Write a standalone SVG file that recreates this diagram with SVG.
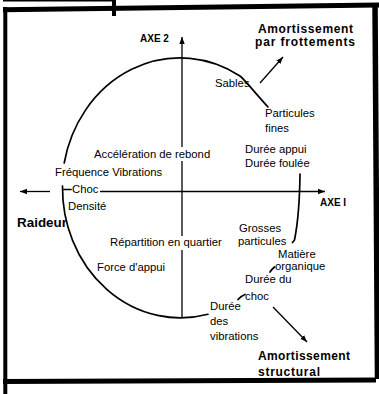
<svg xmlns="http://www.w3.org/2000/svg" width="379" height="394" viewBox="0 0 379 394">
<defs>
<marker id="ah" markerUnits="userSpaceOnUse" markerWidth="8" markerHeight="8" refX="7" refY="4" orient="auto">
<path d="M0,1.3 L7,4 L0,6.7 Z" fill="#000"/>
</marker>
<style>
.t{font-family:"Liberation Sans",Arial,sans-serif;font-size:11.3px;fill:#000}
.b{font-family:"Liberation Sans",Arial,sans-serif;font-size:12px;font-weight:bold;fill:#000}
.r{font-family:"Liberation Sans",Arial,sans-serif;font-size:13.4px;font-weight:bold;fill:#000}
.ax{font-family:"Liberation Sans",Arial,sans-serif;font-size:10px;font-weight:bold;fill:#000}
.c{fill:none;stroke:#000;stroke-width:1.7;stroke-linecap:round}
.a{fill:none;stroke:#000;stroke-width:1.3}
.fr{fill:none;stroke:#000;stroke-linecap:butt}
</style>
</defs>
<rect width="379" height="394" fill="#fff"/>
<g id="connectors">
<path class="c" d="M64.2,163 A118,130 0 0 1 240,76 C245,80 256,94 268,107"/>
<path class="c" d="M300,174 Q299.5,215 294.5,240 L292.5,242.5"/>
<path class="c" d="M270,272 Q272,269 274.5,267"/>
<path class="c" d="M238,299.5 Q241,296 245,294.5"/>
<path class="c" d="M208,314.3 A118,130 0 0 1 62.5,186"/>
<path class="c" d="M64,189.5 L71,189.5"/>
<path class="a" d="M182,147 L182,37" marker-end="url(#ah)"/>
<path class="a" d="M182,161 L182,236"/>
<path class="a" d="M182,250 L182,318"/>
<path class="a" d="M100,191.5 L325,191.5" marker-end="url(#ah)"/>
<path class="a" d="M50,191.5 L20,191.5" marker-end="url(#ah)"/>
<path class="a" d="M260,83 L283,57" marker-end="url(#ah)"/>
<path class="a" d="M273,307 L307,342" marker-end="url(#ah)"/>
</g>
<g id="axe2"><text class="ax" x="140" y="42">AXE 2</text></g>
<g id="axe1"><text class="ax" x="320" y="205.5">AXE I</text></g>
<g id="amort-frott"><text class="b" x="258" y="32.5" textLength="95">Amortissement</text><text class="b" x="255" y="46" textLength="100">par frottements</text></g>
<g id="amort-struct"><text class="b" x="258" y="360" textLength="92">Amortissement</text><text class="b" x="258" y="376" textLength="62">structural</text></g>
<g id="raideur"><text class="r" x="17" y="226.5" textLength="50">Raideur</text></g>
<g id="sables"><text class="t" x="215" y="87">Sables</text></g>
<g id="particules-fines"><text class="t" x="265" y="116.5">Particules</text><text class="t" x="265" y="132">fines</text></g>
<g id="duree-appui"><text class="t" x="245" y="153">Durée appui</text><text class="t" x="245" y="166.5">Durée foulée</text></g>
<g id="acceleration"><text class="t" x="94" y="158.3">Accélération de rebond</text></g>
<g id="frequence"><text class="t" x="55" y="176">Fréquence Vibrations</text></g>
<g id="choc"><text class="t" x="72" y="193">Choc</text></g>
<g id="densite"><text class="t" x="68" y="209.5">Densité</text></g>
<g id="repartition"><text class="t" x="110" y="246">Répartition en quartier</text></g>
<g id="force"><text class="t" x="97" y="271">Force d'appui</text></g>
<g id="grosses"><text class="t" x="239" y="232">Grosses</text><text class="t" x="238" y="245">particules</text></g>
<g id="matiere"><text class="t" x="278" y="258">Matière</text><text class="t" x="275" y="269.5">organique</text></g>
<g id="duree-choc"><text class="t" x="245" y="283">Durée du</text><text class="t" x="245" y="300">choc</text></g>
<g id="duree-vib"><text class="t" x="210" y="310">Durée</text><text class="t" x="210" y="325">des</text><text class="t" x="210" y="340">vibrations</text></g>
<g id="frame">
<path class="fr" stroke-width="1.5" d="M3,0.8 L115,0.8"/>
<path class="fr" stroke-width="4" d="M114,0 L114,16"/>
<path class="fr" stroke-width="5" d="M3,9.8 L379,5"/>
<path class="fr" stroke-width="4" d="M5.3,7 L5.3,394"/>
<path class="fr" stroke-width="5.5" d="M375,3 L377.5,379"/>
<path class="fr" stroke-width="5" d="M3,381.5 L376,380"/>
</g>
</svg>
